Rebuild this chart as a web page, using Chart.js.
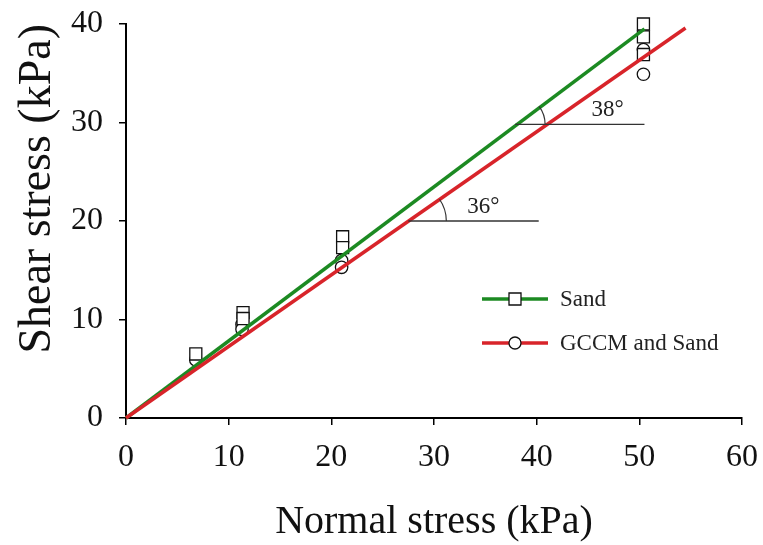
<!DOCTYPE html>
<html>
<head>
<meta charset="utf-8">
<script src="https://cdn.jsdelivr.net/npm/chart.js@4.4.0/dist/chart.umd.min.js"></script>
<style>
	html, body { margin: 0; padding: 0; background: #fff; }
	#wrap { width: 763px; height: 545px; }
</style>
</head>
<body>
<div id="wrap"><canvas id="chart"></canvas></div>
<script>
	// measured points (kPa)
	const sandNormal = [6.8, 11.4, 11.4, 21.1, 21.1, 50.4, 50.4, 50.4];
	const sandShear = [6.5, 10.7, 10.1, 18.4, 17.3, 40.0, 38.7, 36.9];
	const gccmNormal = [6.8, 11.3, 11.3, 21.0, 21.0, 50.4, 50.4];
	const gccmShear = [5.9, 9.5, 9.0, 16.0, 15.3, 37.4, 34.9];

	// fitted failure envelopes
	const sandFitNormal = [0, 50.5];
	const sandFitShear = [0, 39.5];
	const gccmFitNormal = [0, 54.5];
	const gccmFitShear = [0, 39.6];

	// horizontal guides for the friction angles
	const guide36Normal = [27.5, 40.2];
	const guide36Shear = [20, 20];
	const guide38Normal = [37.9, 50.5];
	const guide38Shear = [29.8, 29.8];

	const xTicks = [0, 10, 20, 30, 40, 50, 60];
	const yTicks = [0, 10, 20, 30, 40];

	const seriesNames = ['Sand', 'GCCM and Sand'];
	const angleLabels = ['36°', '38°'];

	const GREEN = '#1c8a22';
	const RED = '#d8242a';
	const SERIF = "'Liberation Serif', 'Times New Roman', serif";

	const toPoints = (xs, ys) => xs.map((x, i) => ({ x: x, y: ys[i] }));

	const angleNotes = [
		{ label: angleLabels[0], cx: guide36Normal[0], cy: guide36Shear[0], ex: gccmFitNormal[1], ey: gccmFitShear[1], r: 38, tx: 34.8, ty: 21.4 },
		{ label: angleLabels[1], cx: guide38Normal[0], cy: guide38Shear[0], ex: sandFitNormal[1], ey: sandFitShear[1], r: 30, tx: 46.9, ty: 31.3 }
	];

	const annotatePlugin = {
		id: 'annotate',
		afterDatasetsDraw(chart) {
			const ctx = chart.ctx;
			const xs = chart.scales.x;
			const ys = chart.scales.y;

			ctx.save();
			angleNotes.forEach(n => {
				const cx = xs.getPixelForValue(n.cx);
				const cy = ys.getPixelForValue(n.cy);
				const ang = Math.atan2(ys.getPixelForValue(n.ey) - ys.getPixelForValue(0), xs.getPixelForValue(n.ex) - xs.getPixelForValue(0));
				ctx.beginPath();
				ctx.strokeStyle = '#333';
				ctx.lineWidth = 1.2;
				ctx.arc(cx, cy, n.r, ang, 0);
				ctx.stroke();

				ctx.fillStyle = '#222';
				ctx.font = '23px ' + SERIF;
				ctx.textAlign = 'center';
				ctx.textBaseline = 'middle';
				ctx.fillText(n.label, xs.getPixelForValue(n.tx), ys.getPixelForValue(n.ty));
			});

			// legend
			const rows = [
				{ name: seriesNames[0], color: GREEN, style: 'rect', y: 299 },
				{ name: seriesNames[1], color: RED, style: 'circle', y: 343 }
			];
			rows.forEach(row => {
				ctx.beginPath();
				ctx.strokeStyle = row.color;
				ctx.lineWidth = 3.5;
				ctx.moveTo(482, row.y);
				ctx.lineTo(548, row.y);
				ctx.stroke();

				ctx.beginPath();
				ctx.fillStyle = '#fff';
				ctx.strokeStyle = '#111';
				ctx.lineWidth = 1.3;
				if (row.style === 'rect') {
					ctx.rect(509, row.y - 6, 12, 12);
				} else {
					ctx.arc(515, row.y, 6, 0, Math.PI * 2);
				}
				ctx.fill();
				ctx.stroke();

				ctx.fillStyle = '#222';
				ctx.font = '23px ' + SERIF;
				ctx.textAlign = 'left';
				ctx.textBaseline = 'middle';
				ctx.fillText(row.name, 560, row.y + 1);
			});
			ctx.restore();
		}
	};

	const lineSet = (data, color, width, order) => ({
		type: 'line',
		data: data,
		borderColor: color,
		borderWidth: width,
		pointRadius: 0,
		showLine: true,
		fill: false,
		clip: false,
		order: order
	});

	new Chart(document.getElementById('chart'), {
		type: 'scatter',
		data: {
			datasets: [
				{
					label: seriesNames[0],
					data: toPoints(sandNormal, sandShear),
					pointStyle: 'rect',
					pointRadius: 8.5,
					backgroundColor: '#fff',
					borderColor: '#111',
					borderWidth: 1.3,
					clip: false,
					order: 3
				},
				{
					label: seriesNames[1],
					data: toPoints(gccmNormal, gccmShear),
					pointStyle: 'circle',
					pointRadius: 6.2,
					backgroundColor: '#fff',
					borderColor: '#111',
					borderWidth: 1.3,
					clip: false,
					order: 4
				},
				lineSet(toPoints(gccmFitNormal, gccmFitShear), RED, 3.5, 1),
				lineSet(toPoints(sandFitNormal, sandFitShear), GREEN, 3.5, 2),
				lineSet(toPoints(guide36Normal, guide36Shear), '#333', 1.3, 0),
				lineSet(toPoints(guide38Normal, guide38Shear), '#333', 1.3, 0)
			]
		},
		options: {
			responsive: true,
			maintainAspectRatio: false,
			animation: false,
			layout: {
				padding: { top: 24, right: 21, left: 0, bottom: 0 }
			},
			plugins: {
				legend: { display: false },
				tooltip: { enabled: false }
			},
			scales: {
				x: {
					type: 'linear',
					min: 0,
					max: 60,
					afterFit: scale => {
						scale.height = 127;
						scale.paddingLeft = 0;
						scale.paddingRight = 0;
					},
					afterBuildTicks: scale => { scale.ticks = xTicks.map(v => ({ value: v })); },
					grid: { drawOnChartArea: false, drawTicks: true, tickLength: 7, color: '#000', lineWidth: 1.5 },
					border: { display: true, color: '#000', width: 2 },
					ticks: { color: '#111', padding: 13, font: { family: SERIF, size: 32 } },
					title: {
						display: true,
						text: 'Normal stress (kPa)',
						color: '#111',
						padding: { top: 0, bottom: -1 },
						font: { family: SERIF, size: 40 }
					}
				},
				y: {
					type: 'linear',
					min: 0,
					max: 40,
					afterFit: scale => {
						scale.width = 126;
						scale.paddingTop = 0;
						scale.paddingBottom = 0;
					},
					afterBuildTicks: scale => { scale.ticks = yTicks.map(v => ({ value: v })); },
					grid: { drawOnChartArea: false, drawTicks: true, tickLength: 7, color: '#000', lineWidth: 1.5 },
					border: { display: true, color: '#000', width: 2 },
					ticks: { color: '#111', padding: 16, font: { family: SERIF, size: 32 } },
					title: {
						display: true,
						text: 'Shear stress (kPa)',
						color: '#111',
						align: 'end',
						padding: { top: 10, bottom: 0 },
						font: { family: SERIF, size: 46 }
					}
				}
			}
		},
		plugins: [annotatePlugin]
	});
</script>
</body>
</html>
